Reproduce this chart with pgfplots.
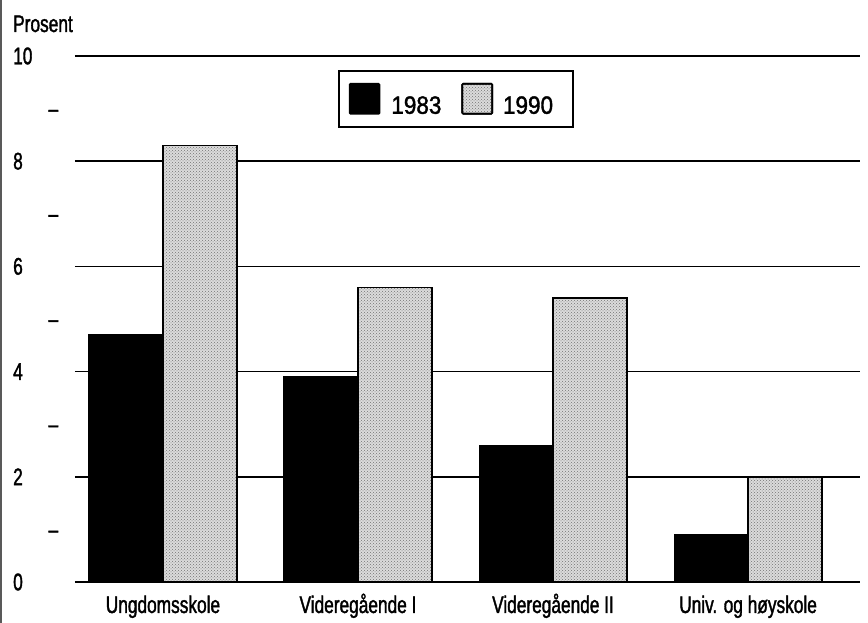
\documentclass[border=0pt]{standalone}
\usepackage{pgfplots}
\pgfplotsset{compat=1.18}
\usetikzlibrary{patterns}
\usepackage{fontspec}
\setmainfont{Liberation Sans}
\newfontfamily\narrowfont{Liberation Sans}[FakeStretch=0.72, FakeBold=1.5]
\newfontfamily\legfont{Liberation Sans}[FakeStretch=0.9, FakeBold=1.5]
\definecolor{dotgray}{gray}{0.86}
\begin{document}
\begin{tikzpicture}
\path[use as bounding box] (0pt,0pt) rectangle (868pt,623pt);
\draw[line width=2pt, black!65] (1pt,0pt) -- (1pt,623pt);
\node[anchor=base west, inner sep=0pt, font=\narrowfont\fontsize{24}{28}\selectfont] at (13pt,591pt) {Prosent};
\begin{axis}[
  at={(75pt,41pt)}, anchor=south west,
  scale only axis, width=785pt, height=526pt,
  xmin=-0.451, xmax=3.574, ymin=0, ymax=10,
  axis line style={draw=none},
  major tick length=0pt,
  ymajorgrids, grid style={black, line width=1.6pt},
  ytick={0,2,...,10},
  yticklabels={
    \makebox[45pt][l]{0},
    \makebox[45pt][l]{2},
    \makebox[45pt][l]{4},
    \makebox[45pt][l]{6},
    \makebox[45pt][l]{8},
    \makebox[45pt][l]{10}},
  extra y ticks={1,3,5,7,9},
  extra y tick labels={
    \makebox[45pt][r]{\textendash\vphantom{0}},
    \makebox[45pt][r]{\textendash\vphantom{0}},
    \makebox[45pt][r]{\textendash\vphantom{0}},
    \makebox[45pt][r]{\textendash\vphantom{0}},
    \makebox[45pt][r]{\textendash\vphantom{0}}},
  extra y tick style={grid=none},
  yticklabel style={anchor=west, inner sep=0pt, xshift=-62pt, font=\narrowfont\fontsize{24}{28}\selectfont},
  xtick={0,1,2,3},
  xticklabels={Ungdomsskole, Videregående I, Videregående II, Univ. og høyskole},
  xticklabel style={anchor=base, inner sep=0pt, yshift=-31pt, font=\narrowfont\fontsize{24}{28}\selectfont},
  ybar=0pt, bar width=74pt,
  legend columns=2,
  legend style={at={(rel axis cs:0.335,0.973)}, anchor=north west,
    draw=black, line width=1.6pt, inner xsep=10pt, inner ysep=12pt,
    nodes={inner sep=0pt},
    font=\legfont\fontsize{25}{29}\selectfont},
  legend image code/.code={\draw[#1, line width=1.6pt, rounded corners=1pt] (0pt,-8pt) rectangle (30pt,22pt);},
]
\addplot[fill=black, draw=black, line width=0pt] coordinates {(0,4.7) (1,3.9) (2,2.6) (3,0.9)};
\addplot[fill=dotgray, draw=black, line width=1.8pt, postaction={pattern=crosshatch dots, pattern color=black!55}] coordinates {(0,8.3) (1,5.6) (2,5.4) (3,2.0)};
\legend{\kern11pt 1983\kern20pt\relax, \kern10pt 1990\kern10pt\relax}
\end{axis}
\end{tikzpicture}
\end{document}
